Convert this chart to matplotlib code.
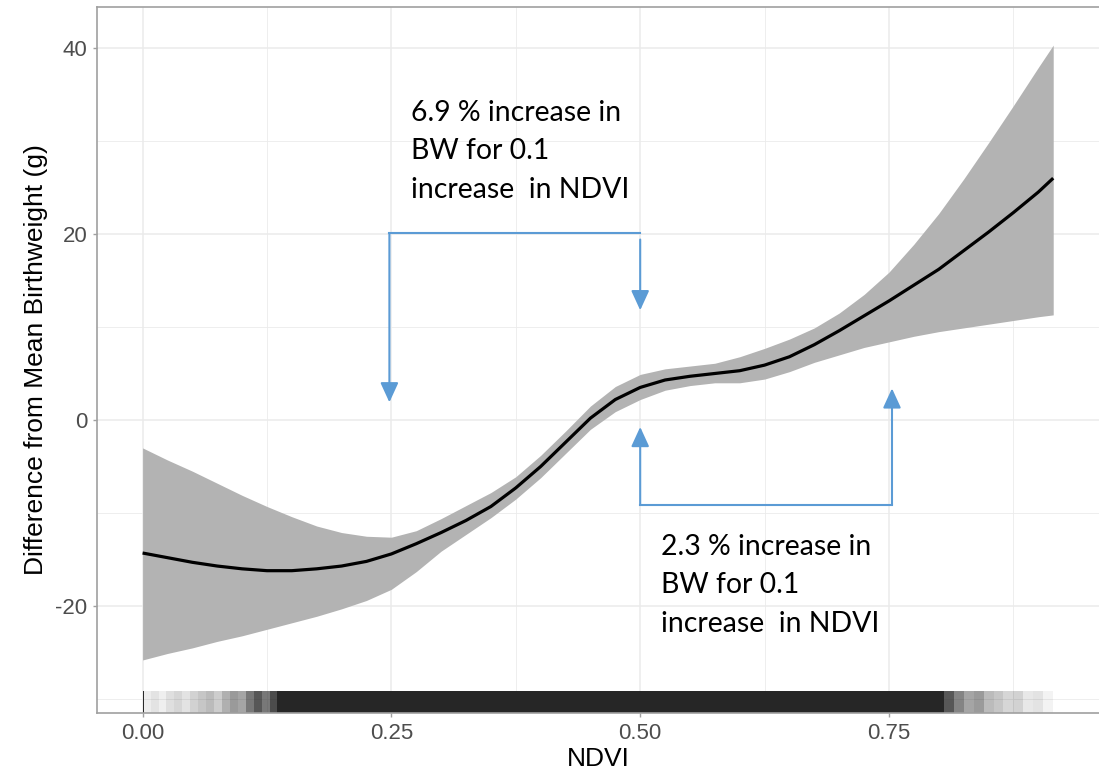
import numpy as np
import matplotlib
matplotlib.use("Agg")
import matplotlib.pyplot as plt
from matplotlib.ticker import MultipleLocator

# smooth fit of birthweight difference vs NDVI
ndvi = [0.000, 0.025, 0.050, 0.075, 0.100, 0.125, 0.150, 0.175, 0.200, 0.225,
        0.250, 0.275, 0.300, 0.325, 0.350, 0.375, 0.400, 0.425, 0.450, 0.475,
        0.500, 0.525, 0.550, 0.575, 0.600, 0.625, 0.650, 0.675, 0.700, 0.725,
        0.750, 0.775, 0.800, 0.825, 0.850, 0.875, 0.900, 0.915]
fit = [-14.3, -14.8, -15.3, -15.7, -16.0, -16.2, -16.2, -16.0, -15.7, -15.2,
       -14.4, -13.3, -12.1, -10.8, -9.3, -7.3, -5.0, -2.4, 0.2, 2.2,
       3.5, 4.3, 4.7, 5.0, 5.3, 5.9, 6.8, 8.1, 9.6, 11.2,
       12.8, 14.5, 16.2, 18.2, 20.2, 22.3, 24.5, 26.0]
upper = [-3.0, -4.3, -5.5, -6.8, -8.1, -9.3, -10.4, -11.4, -12.1, -12.5,
         -12.6, -11.9, -10.6, -9.2, -7.8, -6.1, -3.8, -1.2, 1.5, 3.6,
         4.9, 5.5, 5.8, 6.1, 6.8, 7.7, 8.7, 9.9, 11.5, 13.5,
         15.9, 18.9, 22.2, 25.9, 29.8, 33.8, 37.9, 40.3]
lower = [-25.8, -25.1, -24.5, -23.8, -23.2, -22.5, -21.8, -21.1, -20.3, -19.4,
         -18.2, -16.3, -14.1, -12.3, -10.5, -8.5, -6.2, -3.6, -1.0, 0.9,
         2.2, 3.2, 3.7, 4.0, 4.0, 4.4, 5.2, 6.2, 7.0, 7.8,
         8.4, 9.0, 9.5, 9.9, 10.3, 10.7, 11.1, 11.3]

# rug along the bottom: bin edges and how dark each bin looks
rug_edges = [0.0, 0.0015, 0.008, 0.016, 0.024, 0.032, 0.040, 0.048, 0.056, 0.064,
             0.072, 0.080, 0.088, 0.096, 0.104, 0.112, 0.120, 0.128, 0.1355,
             0.805, 0.815, 0.825, 0.835, 0.845, 0.855, 0.865, 0.875, 0.885,
             0.895, 0.905, 0.915]
rug_shade = [0.95, 0.08, 0.12, 0.07, 0.14, 0.18, 0.12, 0.20, 0.25, 0.30,
             0.22, 0.35, 0.45, 0.40, 0.60, 0.75, 0.60, 0.80,
             0.97,
             0.75, 0.55, 0.40, 0.45, 0.30, 0.25, 0.18, 0.20, 0.10, 0.12, 0.05]

xticks = [0.0, 0.25, 0.5, 0.75]
yticks = [-20, 0, 20, 40]

# annotation brackets (NDVI from, NDVI to, bracket level, left tip, right start, right tip)
ann_top = (0.248, 0.5, 20.1, 1.9, 19.4, 11.8)
ann_bot = (0.5, 0.753, -9.1, -0.75, -9.1, 3.4)
txt_top = ["6.9 % increase in", "BW for 0.1", "increase  in NDVI"]
txt_bot = ["2.3 % increase in", "BW for 0.1", "increase  in NDVI"]

blue = "#5b9bd5"
gridc = "#ebebeb"
axc = "#a0a0a0"

plt.rcParams["font.family"] = ["Liberation Sans", "DejaVu Sans"]

fig = plt.figure(figsize=(10.99, 7.70), dpi=100)
ax = fig.add_axes([97 / 1099, 1 - 713 / 770, 1 - 97 / 1099, 706 / 770])

ax.fill_between(ndvi, lower, upper, color="#b3b3b3", lw=0, zorder=2)
ax.plot(ndvi, fit, color="black", lw=2.3, zorder=3, solid_capstyle="butt",
        solid_joinstyle="round")

for i in range(len(rug_shade)):
    ax.axvspan(rug_edges[i], rug_edges[i + 1], ymin=0, ymax=22 / 706,
               color="#1f1f1f", alpha=rug_shade[i], lw=0, zorder=2)

ax.set_xlim(-0.0458, 0.961)
ax.set_ylim(-31.5, 44.4)
ax.set_xticks(xticks)
ax.set_xticklabels(["0.00", "0.25", "0.50", "0.75"])
ax.set_yticks(yticks)
ax.set_yticklabels([str(v) for v in yticks])
ax.xaxis.set_minor_locator(MultipleLocator(0.125))
ax.yaxis.set_minor_locator(MultipleLocator(10))
ax.grid(which="major", color=gridc, lw=1.1, zorder=0)
ax.grid(which="minor", color=gridc, lw=0.6, zorder=0)
ax.set_axisbelow(True)
ax.tick_params(which="major", length=3, width=1, color=axc, labelcolor="#4d4d4d",
               labelsize=16, pad=4)
ax.tick_params(which="minor", length=0)
for s in ["left", "top", "bottom"]:
    ax.spines[s].set_color(axc)
    ax.spines[s].set_linewidth(1.2)
ax.spines["right"].set_visible(False)

ax.set_xlabel("NDVI", fontsize=19, color="black", labelpad=2)
ax.set_ylabel("Difference from Mean Birthweight (g)", fontsize=19, color="black", labelpad=5)

aprops = dict(arrowstyle="-|>,head_length=1.2,head_width=0.55", color=blue, lw=1.5,
              shrinkA=0, shrinkB=0, mutation_scale=10)

x0, x1, lev, ltip, rstart, rtip = ann_top
ax.plot([x0, x1], [lev, lev], color=blue, lw=1.5, zorder=5)
ax.annotate("", xy=(x0, ltip), xytext=(x0, lev), arrowprops=aprops, zorder=5)
ax.annotate("", xy=(x1, rtip), xytext=(x1, rstart), arrowprops=aprops, zorder=5)

x0, x1, lev, ltip, rstart, rtip = ann_bot
ax.plot([x0, x1], [lev, lev], color=blue, lw=1.5, zorder=5)
ax.annotate("", xy=(x0, ltip), xytext=(x0, lev), arrowprops=aprops, zorder=5)
ax.annotate("", xy=(x1, rtip), xytext=(x1, rstart), arrowprops=aprops, zorder=5)

for line, yb in zip(txt_top, [32.18, 28.03, 23.84]):
    ax.text(0.2698, yb, line, fontsize=20.4, family=["Lato", "DejaVu Sans"],
            va="baseline", ha="left", color="black", zorder=6)
for line, yb in zip(txt_bot, [-14.52, -18.63, -22.76]):
    ax.text(0.5208, yb, line, fontsize=20.4, family=["Lato", "DejaVu Sans"],
            va="baseline", ha="left", color="black", zorder=6)

fig.savefig("out.png", dpi=100)
